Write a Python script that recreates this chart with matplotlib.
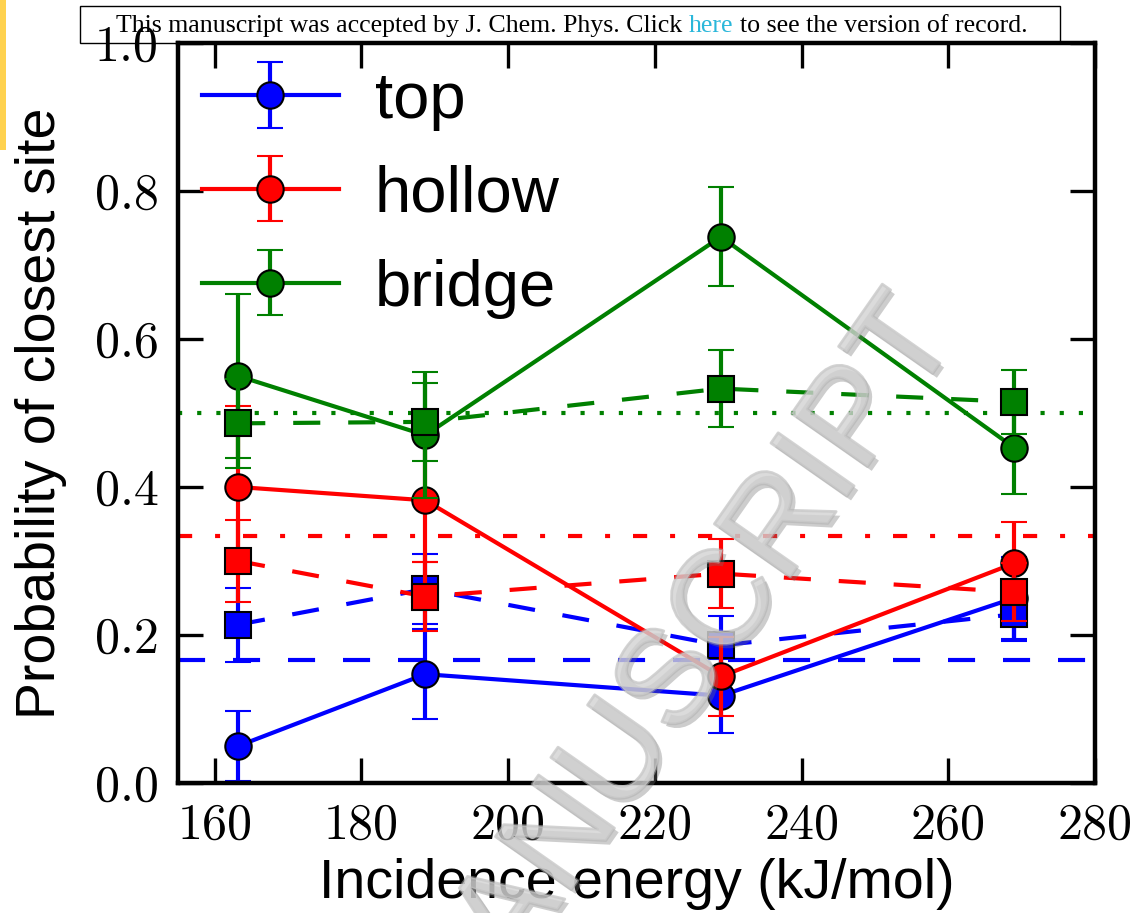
import matplotlib
matplotlib.use('Agg')
import matplotlib.pyplot as plt
from matplotlib import patheffects as pe
from matplotlib.patches import Rectangle

plt.rcParams['font.family'] = ['Liberation Sans', 'DejaVu Sans']

# incidence energies (kJ/mol)
energy = [163.2, 188.7, 229.0, 269.0]

# probability of closest site, circles + solid lines
top = [0.050, 0.147, 0.118, 0.250]
top_err = [0.047, 0.061, 0.050, 0.055]
hollow = [0.400, 0.382, 0.144, 0.297]
hollow_err = [0.109, 0.084, 0.053, 0.056]
bridge = [0.550, 0.470, 0.738, 0.453]
bridge_err = [0.111, 0.085, 0.067, 0.063]

# second data set, squares + dashed lines
top_sq = [0.214, 0.262, 0.186, 0.228]
top_sq_err = [0.050, 0.047, 0.040, 0.036]
hollow_sq = [0.300, 0.252, 0.283, 0.258]
hollow_sq_err = [0.055, 0.046, 0.047, 0.039]
bridge_sq = [0.486, 0.488, 0.533, 0.515]
bridge_sq_err = [0.060, 0.053, 0.052, 0.043]

# statistical fractions of each site
ref_top = 1 / 6
ref_hollow = 1 / 3
ref_bridge = 1 / 2

xticks = [160, 180, 200, 220, 240, 260, 280]
yticks = [0.0, 0.2, 0.4, 0.6, 0.8, 1.0]

fig = plt.figure(figsize=(11.37, 9.13), dpi=100)
ax = fig.add_axes([0.1566, 0.1424, 0.8065, 0.8105])

dash = (0, (6.5, 6.7))
ax.axhline(ref_top, color='b', lw=3, ls=dash, zorder=1)
ax.axhline(ref_hollow, color='r', lw=3, ls=(0, (3.4, 5.5, 1.2, 5.5)), zorder=1)
ax.axhline(ref_bridge, color='g', lw=3, ls=(0, (1.0, 3.6)), zorder=1)

kw = dict(ms=19, mec='k', mew=1.5, lw=3, elinewidth=3, capsize=9.5, capthick=2)
ax.errorbar(energy, top, yerr=top_err, fmt='o-', color='b', label='top', zorder=2.0, **kw)
ax.errorbar(energy, top_sq, yerr=top_sq_err, fmt='s', ls=dash, color='b', zorder=2.2, **kw)
ax.errorbar(energy, hollow, yerr=hollow_err, fmt='o-', color='r', label='hollow', zorder=2.4, **kw)
ax.errorbar(energy, hollow_sq, yerr=hollow_sq_err, fmt='s', ls=dash, color='r', zorder=2.6, **kw)
ax.errorbar(energy, bridge, yerr=bridge_err, fmt='o-', color='g', label='bridge', zorder=2.8, **kw)
ax.errorbar(energy, bridge_sq, yerr=bridge_sq_err, fmt='s', ls=dash, color='g', zorder=3.0, **kw)

ax.set_xlim(155, 280)
ax.set_ylim(0, 1)
ax.set_xticks(xticks)
ax.set_yticks(yticks)
ax.set_yticklabels(['%.1f' % v for v in yticks])
ax.tick_params(direction='in', length=18, width=2.4, top=True, right=True,
               labelsize=36, pad=14, labelfontfamily='cmr10')
for s in ax.spines.values():
    s.set_linewidth(3.2)

ax.set_xlabel('Incidence energy (kJ/mol)', fontsize=40)
ax.set_ylabel('Probability of closest site', fontsize=40)
ax.xaxis.set_label_coords(0.5, -0.101)
ax.yaxis.set_label_coords(-0.121, 0.5)

leg = ax.legend(loc='upper left', bbox_to_anchor=(0.026, 0.9625), borderaxespad=0,
                borderpad=0, frameon=False, fontsize=47, handlelength=2.1,
                handletextpad=0.55, labelspacing=0.52)
leg.set_zorder(5)

# journal banner
fig.patches.append(Rectangle((0.0704, 0.9529), 0.862, 0.0405, transform=fig.transFigure,
                             fill=False, edgecolor='k', lw=1))
fig.patches.append(Rectangle((0, 1 - 150 / 913), 6 / 1137, 150 / 913, transform=fig.transFigure,
                             color='#ffd24f', lw=0))
bkw = dict(fontsize=18.6, family='Liberation Serif', va='bottom')
t1 = fig.text(0.102, 0.959, 'This manuscript was accepted by J. Chem. Phys. Click', **bkw)
t2 = ax.annotate('here', xy=(1, 0), xycoords=t1, xytext=(4.6, 0), textcoords='offset points',
                 color='#2ab7da', annotation_clip=False, **bkw)
t3 = ax.annotate('to see the version of record.', xy=(1, 0), xycoords=t2, xytext=(4.6, 0),
                 textcoords='offset points', annotation_clip=False, **bkw)

# watermark
fig.text(0.4, -0.09, 'ACCEPTED MANUSCRIPT', rotation=55, rotation_mode='anchor',
         ha='center', va='center', fontsize=97, color='#d2d2d2', alpha=0.55, zorder=10,
         path_effects=[pe.SimplePatchShadow(offset=(3, -3), shadow_rgbFace='#707070', alpha=0.35),
                       pe.withStroke(linewidth=2, foreground='#b0b0b0')])

fig.savefig('out.png', dpi=100)
